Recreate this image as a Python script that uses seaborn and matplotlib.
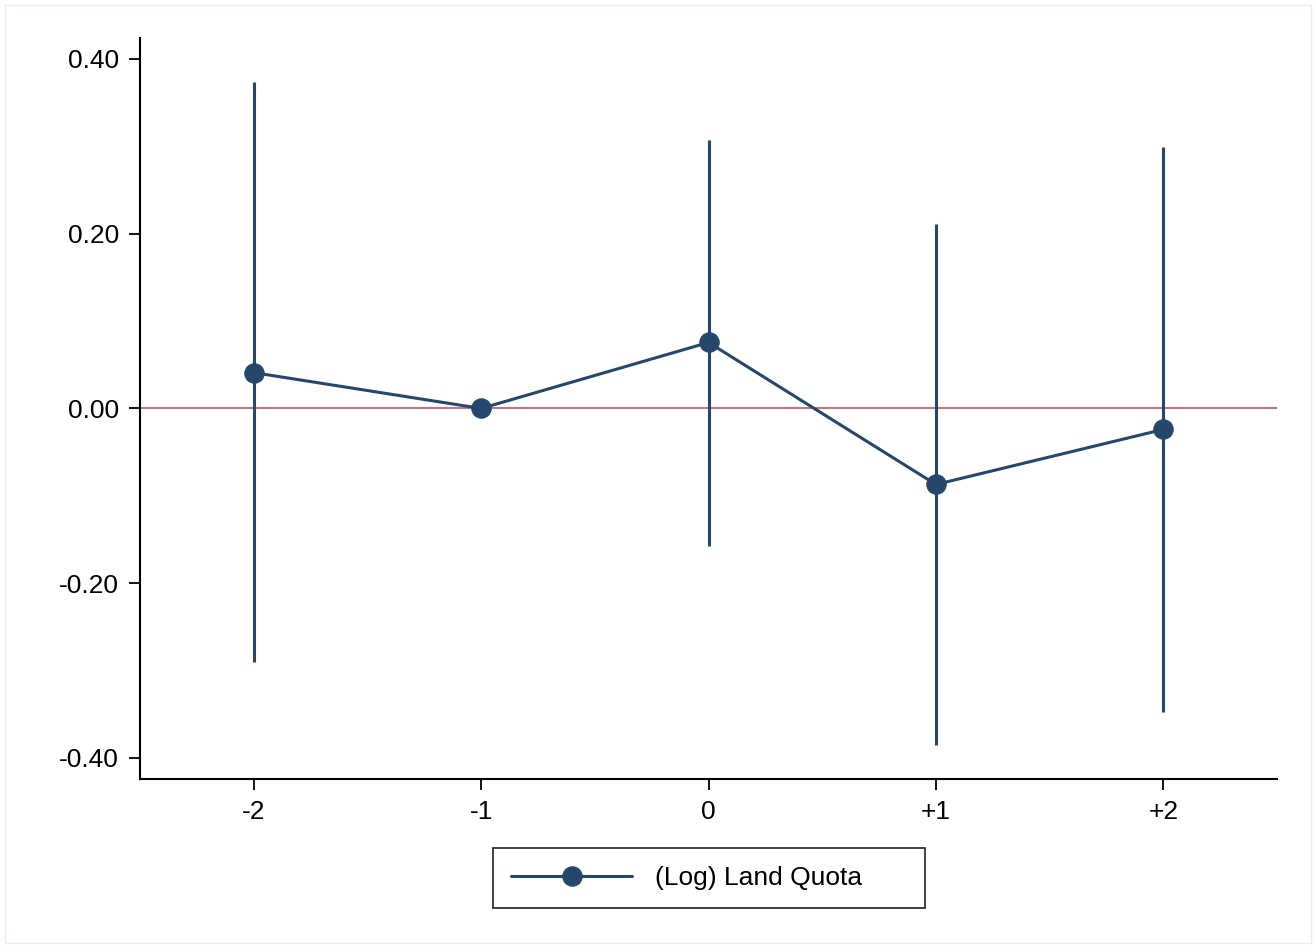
import matplotlib
matplotlib.use("Agg")
import matplotlib.pyplot as plt
import seaborn as sns
import pandas as pd
from matplotlib.patches import Rectangle

periods = [-2, -1, 0, 1, 2]
period_labels = ["-2", "-1", "0", "+1", "+2"]
coef = [0.041, 0.0, 0.0755, -0.087, -0.024]
ci_low = [-0.290, 0.0, -0.157, -0.385, -0.347]
ci_high = [0.373, 0.0, 0.307, 0.211, 0.299]
yticks = [-0.40, -0.20, 0.00, 0.20, 0.40]

sns.set_theme(style="white")
plt.rcParams['font.family'] = ['Liberation Sans', 'DejaVu Sans']

navy = "#26476c"
df = pd.DataFrame({"period": periods, "coef": coef, "lo": ci_low, "hi": ci_high})

fig = plt.figure(figsize=(13.16, 9.48), dpi=100)
fig.patches.append(Rectangle((0.004, 0.005), 0.992, 0.99, transform=fig.transFigure,
                             fill=False, edgecolor="#e6ecef", linewidth=1))
ax = fig.add_axes([0.1064, 0.1783, 0.8640, 0.7817])

ax.axhline(0, color="#cf5f6e", linewidth=1.3, zorder=1)
for i, r in df.iterrows():
    if r["hi"] != r["lo"]:
        ax.vlines(r["period"], r["lo"], r["hi"], color=navy, linewidth=2.2, zorder=2)
sns.lineplot(data=df, x="period", y="coef", ax=ax, color=navy, linewidth=2.2,
             marker="o", markersize=14, markeredgecolor=navy, zorder=3,
             label="(Log) Land Quota")

ax.set_xlim(-2.5, 2.5)
ax.set_ylim(-0.424, 0.424)
ax.set_xticks(periods)
ax.set_xticklabels(period_labels)
ax.set_yticks(yticks)
ax.set_yticklabels([f"{v:.2f}" for v in yticks])
ax.set_xlabel("")
ax.set_ylabel("")
for s in ["top", "right"]:
    ax.spines[s].set_visible(False)
for s in ["left", "bottom"]:
    ax.spines[s].set_color("black")
    ax.spines[s].set_linewidth(1.5)
ax.tick_params(axis="both", which="major", direction="out", length=8, width=1.3,
               color="black", labelsize=19, labelcolor="black", pad=7,
               left=True, bottom=True)

leg = ax.legend(loc="center", bbox_to_anchor=(493/1316, 0.0735, 432/1316, 0.0),
                bbox_transform=fig.transFigure, mode="expand",
                frameon=True, fancybox=False, fontsize=19, handlelength=4.6,
                borderpad=0.68, handletextpad=0.85, borderaxespad=0)
leg.get_frame().set_edgecolor("black")
leg.get_frame().set_linewidth(1.3)
for t in leg.get_texts():
    t.set_color("black")

fig.savefig("out.png", dpi=100, facecolor="white")
